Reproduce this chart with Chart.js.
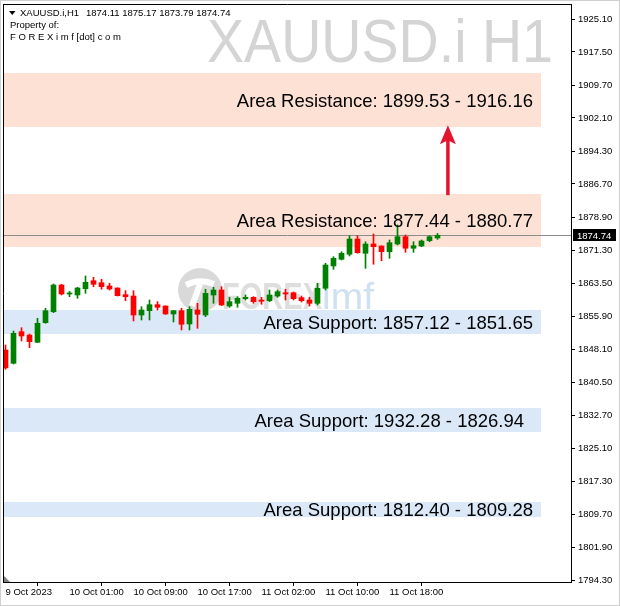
<!DOCTYPE html>
<html>
<head>
<meta charset="utf-8">
<script src="https://cdn.jsdelivr.net/npm/chart.js@4.4.0/dist/chart.umd.min.js"></script>
<style>
  html, body { margin: 0; padding: 0; background: #fff; }
  #wrap { width: 620px; height: 606px; position: relative; }
</style>
</head>
<body>
<div id="wrap"><canvas id="chart" width="620" height="606"></canvas></div>
<script>
// XAUUSD.i H1 candles (one bar per hour)
const opens = [1847.99, 1844.89, 1852.26, 1851.49, 1849.79, 1854.36, 1856.92, 1863.15, 1861.05, 1860.82,
  1862.29, 1864.15, 1863.69, 1862.92, 1862.45, 1860.89, 1860.58, 1856.15, 1857.16, 1858.56,
  1858.25, 1856.39, 1857.16, 1854.06, 1857.32, 1856.15, 1860.82, 1861.98, 1858.25, 1858.88,
  1859.95, 1860.28, 1859.65, 1859.49, 1860.58, 1861.35, 1861.35, 1860.19, 1859.65, 1858.88,
  1862.38, 1867.58, 1869.14, 1870.31, 1873.87, 1870.54, 1872.71, 1872.24, 1870.91, 1872.71,
  1874.41, 1871.71, 1872.24, 1873.48, 1874.11]
const highs = [1849.16, 1852.42, 1853.19, 1851.72, 1855.39, 1857.72, 1863.38, 1863.30, 1861.65, 1862.61,
  1865.25, 1864.94, 1864.48, 1863.55, 1862.50, 1861.82, 1861.82, 1858.09, 1859.65, 1859.26,
  1858.30, 1857.20, 1857.72, 1858.09, 1858.88, 1862.15, 1862.61, 1862.75, 1860.28, 1860.42,
  1860.82, 1860.42, 1860.28, 1861.98, 1861.98, 1862.15, 1861.52, 1860.58, 1860.28, 1863.55,
  1868.21, 1869.75, 1870.91, 1874.64, 1874.64, 1873.24, 1875.04, 1872.30, 1873.64, 1877.14,
  1874.81, 1873.24, 1873.64, 1874.64, 1875.17]
const lows = [1843.50, 1844.73, 1850.09, 1848.53, 1849.70, 1854.22, 1856.69, 1860.82, 1860.42, 1860.05,
  1861.21, 1862.75, 1862.15, 1861.98, 1860.58, 1859.49, 1854.76, 1854.99, 1854.99, 1857.32,
  1856.32, 1854.52, 1852.66, 1852.66, 1853.05, 1855.76, 1858.88, 1858.32, 1857.95, 1857.95,
  1859.65, 1858.88, 1858.65, 1859.26, 1860.28, 1859.65, 1859.65, 1859.19, 1858.25, 1858.49,
  1861.98, 1866.81, 1868.98, 1869.91, 1870.54, 1867.04, 1867.98, 1868.82, 1869.37, 1872.48,
  1870.77, 1870.77, 1872.08, 1873.24, 1873.79]
const closes = [1843.80, 1851.89, 1851.26, 1849.93, 1854.22, 1857.16, 1863.15, 1861.05, 1861.20, 1862.45,
  1863.78, 1863.31, 1862.75, 1862.22, 1860.66, 1860.42, 1856.15, 1857.32, 1858.56, 1857.95,
  1856.39, 1857.16, 1853.99, 1857.48, 1856.32, 1861.21, 1861.98, 1858.49, 1859.26, 1860.05,
  1860.28, 1859.26, 1859.35, 1860.82, 1861.59, 1861.05, 1859.95, 1859.49, 1858.88, 1862.38,
  1867.81, 1869.37, 1870.54, 1873.87, 1870.68, 1872.71, 1872.08, 1870.91, 1873.01, 1874.41,
  1871.71, 1872.31, 1873.41, 1874.41, 1874.74]

// time axis labels and the bar each one sits on
const timeLabels = ["9 Oct 2023", "10 Oct 01:00", "10 Oct 09:00", "10 Oct 17:00", "11 Oct 02:00", "11 Oct 10:00", "11 Oct 18:00"]
const timeTickBars = [0, 8, 16, 24, 32, 40, 48]

// price axis labels
const priceTicks = [1925.10, 1917.50, 1909.70, 1902.10, 1894.30, 1886.70, 1878.90, 1871.30, 1863.50,
  1855.90, 1848.10, 1840.50, 1832.70, 1825.10, 1817.30, 1809.70, 1801.90, 1794.30]
const lastPrice = 1874.74

// drawn zones (edges as drawn on the chart) and their captions
const zoneTops = [1912.58, 1884.37, 1857.32, 1834.47, 1812.55]
const zoneBottoms = [1899.99, 1872.01, 1851.72, 1828.87, 1809.06]
const zoneKinds = ["res", "res", "sup", "sup", "sup"]
const zoneCaptions = [
  "Area Resistance: 1899.53 - 1916.16",
  "Area Resistance: 1877.44 - 1880.77",
  "Area Support: 1857.12 - 1851.65",
  "Area Support: 1932.28 - 1826.94",
  "Area Support: 1812.40 - 1809.28",
]

const UP = "#008000"
const DOWN = "#ff0000"
const FONT = "'Liberation Sans', Arial, sans-serif"

const candleColors = opens.map((o, i) => (closes[i] >= o ? UP : DOWN))
const bodies = opens.map((o, i) => ({ x: i, y: [o, closes[i]] }))
const wicks = lows.map((l, i) => ({ x: i, y: [l, highs[i]] }))

function fitText(ctx, text, x, y, width) {
  const w = ctx.measureText(text).width
  ctx.save()
  ctx.translate(x, y)
  ctx.scale(width / w, 1)
  ctx.fillText(text, 0, 0)
  ctx.restore()
}

// zones, watermarks and bid line behind the candles
const backLayer = {
  id: "backLayer",
  beforeDatasetsDraw(chart) {
    const { ctx, chartArea: a, scales: { x, y } } = chart
    ctx.save()
    ctx.beginPath()
    ctx.rect(a.left, a.top, a.right - a.left, a.bottom - a.top)
    ctx.clip()

    // big symbol watermark
    ctx.fillStyle = "#d4d4d4"
    ctx.font = "61px " + FONT
    ctx.textBaseline = "alphabetic"
    fitText(ctx, "XAUUSD.i H1", 207, 62, 346)

    // zones
    const zoneRight = x.getPixelForValue(66.94)
    zoneTops.forEach((t, i) => {
      const top = y.getPixelForValue(t)
      const bot = y.getPixelForValue(zoneBottoms[i])
      ctx.fillStyle = zoneKinds[i] === "res" ? "#fde1d4" : "#dae8f8"
      ctx.fillRect(a.left, Math.round(top), zoneRight - a.left, Math.round(bot) - Math.round(top))
    })

    // FOREXimf logo watermark
    ctx.fillStyle = "#d9d9d9"
    ctx.beginPath()
    ctx.arc(200, 290, 22, 0, Math.PI * 2)
    ctx.fill()
    ctx.strokeStyle = "#ffffff"
    ctx.lineWidth = 6
    ctx.beginPath()
    ctx.moveTo(186, 285)
    ctx.quadraticCurveTo(200, 278, 214, 284)
    ctx.moveTo(200, 284)
    ctx.lineTo(192, 306)
    ctx.stroke()
    ctx.font = "bold 36px " + FONT
    ctx.fillStyle = "#dedede"
    fitText(ctx, "FOREX", 222, 309, 100)
    ctx.font = "36px " + FONT
    ctx.fillStyle = "#cfe0f0"
    fitText(ctx, "imf", 322, 309, 52)

    // bid line
    const py = Math.round(y.getPixelForValue(lastPrice)) + 0.5
    ctx.strokeStyle = "#8c8c8c"
    ctx.lineWidth = 1
    ctx.beginPath()
    ctx.moveTo(a.left, py)
    ctx.lineTo(a.right, py)
    ctx.stroke()
    ctx.restore()
  },
}

// captions, arrow, header, frame, price tag on top
const frontLayer = {
  id: "frontLayer",
  afterDatasetsDraw(chart) {
    const { ctx, scales: { x, y } } = chart
    ctx.save()

    // zone captions
    ctx.fillStyle = "#000"
    ctx.font = "18.5px " + FONT
    ctx.textAlign = "right"
    ctx.textBaseline = "alphabetic"
    zoneTops.forEach((t, i) => {
      const mid = (y.getPixelForValue(t) + y.getPixelForValue(zoneBottoms[i])) / 2
      const right = i === 3 ? 524 : 533
      ctx.fillText(zoneCaptions[i], right, mid + 6.6)
    })

    // up arrow between the resistance zones
    const ax = x.getPixelForValue(55.3)
    const yFrom = y.getPixelForValue(1884.1)
    const yTip = y.getPixelForValue(1900.4)
    ctx.strokeStyle = "#e3142e"
    ctx.fillStyle = "#e3142e"
    ctx.lineWidth = 3.5
    ctx.beginPath()
    ctx.moveTo(ax, yFrom)
    ctx.lineTo(ax, yTip + 12)
    ctx.stroke()
    ctx.beginPath()
    ctx.moveTo(ax, yTip)
    ctx.lineTo(ax + 8, yTip + 19)
    ctx.lineTo(ax, yTip + 15)
    ctx.lineTo(ax - 8, yTip + 19)
    ctx.closePath()
    ctx.fill()
    ctx.restore()
  },
  afterDraw(chart) {
    const { ctx, chartArea: a, scales: { y } } = chart
    ctx.save()

    // frame (top and left; right and bottom are the axis borders)
    ctx.strokeStyle = "#000"
    ctx.lineWidth = 1
    ctx.beginPath()
    ctx.moveTo(a.left - 1, a.top - 0.5)
    ctx.lineTo(a.right + 1, a.top - 0.5)
    ctx.moveTo(a.left - 0.5, a.top - 1)
    ctx.lineTo(a.left - 0.5, a.bottom + 1)
    ctx.stroke()

    // outer window border
    ctx.strokeStyle = "#d0d0d0"
    ctx.strokeRect(0.5, 0.5, 619, 605)

    // shift marker
    ctx.fillStyle = "#808080"
    ctx.beginPath()
    ctx.moveTo(a.left, a.bottom - 6)
    ctx.lineTo(a.left, a.bottom)
    ctx.lineTo(a.left + 6, a.bottom)
    ctx.closePath()
    ctx.fill()

    // header
    ctx.fillStyle = "#000"
    ctx.beginPath()
    ctx.moveTo(9, 11)
    ctx.lineTo(15.5, 11)
    ctx.lineTo(12.25, 15)
    ctx.closePath()
    ctx.fill()
    ctx.font = "9.5px " + FONT
    ctx.textAlign = "left"
    ctx.textBaseline = "alphabetic"
    ctx.fillText("XAUUSD.i,H1", 20, 16)
    ctx.fillText([opens[54], highs[54], lows[54], closes[54]].map(v => v.toFixed(2)).join(" "), 86, 16)
    ctx.fillText("Property of:", 10, 28)
    ctx.fillText("F O R E X i m f [dot] c o m", 10, 40)

    // current price tag
    const py = Math.round(y.getPixelForValue(lastPrice))
    ctx.fillStyle = "#000"
    ctx.fillRect(573, py - 6, 43, 12)
    ctx.fillStyle = "#fff"
    ctx.fillText(lastPrice.toFixed(2), 577, py + 3.5)
    ctx.restore()
  },
}

new Chart(document.getElementById("chart"), {
  type: "bar",
  data: {
    datasets: [
      {
        data: bodies,
        backgroundColor: candleColors,
        borderWidth: 0,
        barThickness: 5,
        minBarLength: 1,
        grouped: false,
      },
      {
        data: wicks,
        backgroundColor: candleColors,
        borderWidth: 0,
        barThickness: 1,
        grouped: false,
      },
    ],
  },
  options: {
    responsive: false,
    animation: false,
    devicePixelRatio: 1,
    layout: { padding: { left: 4, top: 5, right: 0, bottom: 0 } },
    plugins: { legend: { display: false }, tooltip: { enabled: false } },
    scales: {
      x: {
        type: "linear",
        offset: false,
        min: -0.1875,
        max: 70.6875,
        afterBuildTicks: (scale) => {
          scale.ticks = timeTickBars.map((v) => ({ value: v }))
        },
        afterFit: (scale) => {
          scale.height = 24
          scale.paddingLeft = 0
          scale.paddingRight = 0
        },
        ticks: {
          autoSkip: false,
          maxRotation: 0,
          align: "start",
          padding: 1,
          color: "#000",
          font: { family: FONT, size: 9.5 },
          callback: (v) => timeLabels[timeTickBars.indexOf(v)],
        },
        grid: { drawOnChartArea: false, drawTicks: true, tickLength: 4, color: "#000" },
        border: { display: true, color: "#000" },
      },
      y: {
        position: "right",
        min: 1793.9,
        max: 1928.43,
        afterBuildTicks: (scale) => {
          scale.ticks = priceTicks.map((v) => ({ value: v }))
        },
        afterFit: (scale) => {
          scale.width = 49
          scale.paddingTop = 0
          scale.paddingBottom = 0
        },
        ticks: {
          autoSkip: false,
          padding: 3,
          color: "#000",
          font: { family: FONT, size: 9.5 },
          callback: (v) => v.toFixed(2),
        },
        grid: { drawOnChartArea: false, drawTicks: true, tickLength: 4, color: "#000" },
        border: { display: true, color: "#000" },
      },
    },
  },
  plugins: [backLayer, frontLayer],
})
</script>
</body>
</html>
